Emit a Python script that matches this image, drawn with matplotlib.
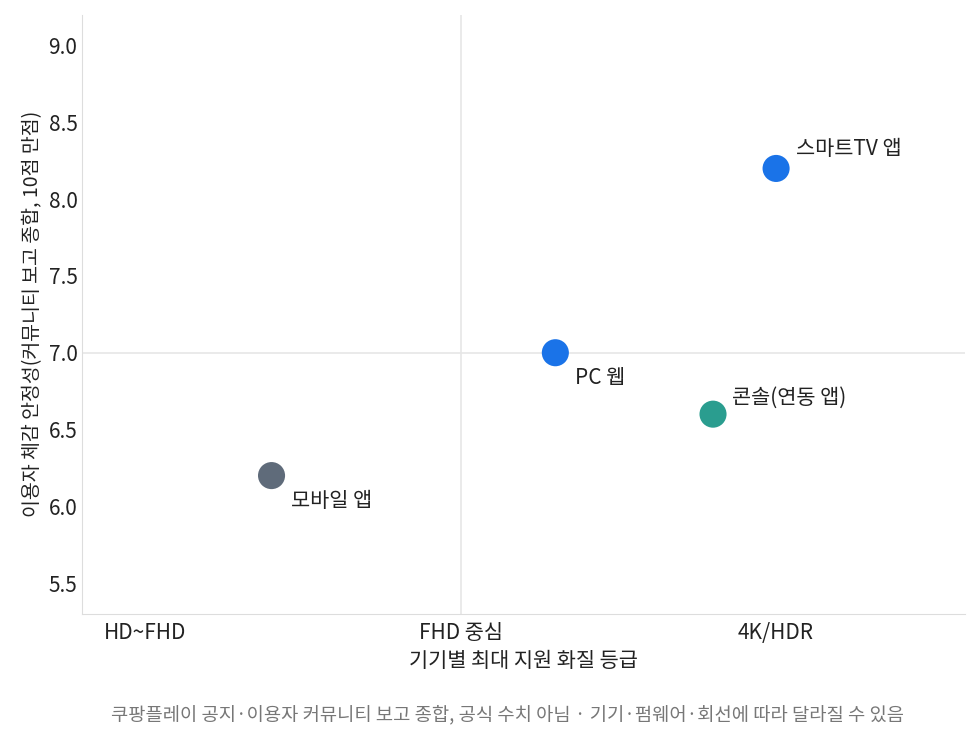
import matplotlib
matplotlib.use('Agg')
import matplotlib.pyplot as plt

plt.rcParams['font.family'] = ['Noto Sans CJK KR', 'DejaVu Sans']

tiers = ['HD~FHD', 'FHD 중심', '4K/HDR']
apps = ['모바일 앱', 'PC 웹', '콘솔(연동 앱)', '스마트TV 앱']
tier_pos = [0.4, 1.3, 1.8, 2.0]
stability = [6.2, 7.0, 6.6, 8.2]
colors = ['#5f6b7a', '#1a73e8', '#2a9d8f', '#1a73e8']
label_offsets = [(14, -18), (14, -18), (14, 12), (14, 14)]

fig, ax = plt.subplots(figsize=(9.8, 7.44), dpi=100)
fig.subplots_adjust(left=0.084, right=0.985, top=0.98, bottom=0.175)

ax.axvline(1, color='#e6e6e6', lw=1.2, zorder=0)
ax.axhline(7.0, color='#e6e6e6', lw=1.2, zorder=0)

ax.scatter(tier_pos, stability, s=380, c=colors, zorder=3, edgecolors='none')
for x, y, name, off in zip(tier_pos, stability, apps, label_offsets):
    ax.annotate(name, (x, y), xytext=off, textcoords='offset points',
                fontsize=15, color='#222222', va='center', ha='left')

ax.set_xlim(-0.2, 2.6)
ax.set_ylim(5.3, 9.2)
ax.set_xticks(range(len(tiers)))
ax.set_xticklabels(tiers, fontsize=15)
ax.set_yticks([5.5, 6.0, 6.5, 7.0, 7.5, 8.0, 8.5, 9.0])
ax.set_yticklabels(['5.5', '6.0', '6.5', '7.0', '7.5', '8.0', '8.5', '9.0'], fontsize=15)
ax.tick_params(length=0, colors='#222222')
ax.tick_params(axis='x', pad=6)
for s in ['top', 'right']:
    ax.spines[s].set_visible(False)
for s in ['left', 'bottom']:
    ax.spines[s].set_color('#dddddd')

ax.set_xlabel('기기별 최대 지원 화질 등급', fontsize=15, color='#222222', labelpad=4)
ax.set_ylabel('이용자 체감 안정성(커뮤니티 보고 종합, 10점 만점)', fontsize=14, color='#222222')

fig.text(0.518, 0.032, '쿠팡플레이 공지·이용자 커뮤니티 보고 종합, 공식 수치 아님 · 기기·펌웨어·회선에 따라 달라질 수 있음',
         ha='center', fontsize=13.5, color='#777777')

fig.savefig('out.png')
